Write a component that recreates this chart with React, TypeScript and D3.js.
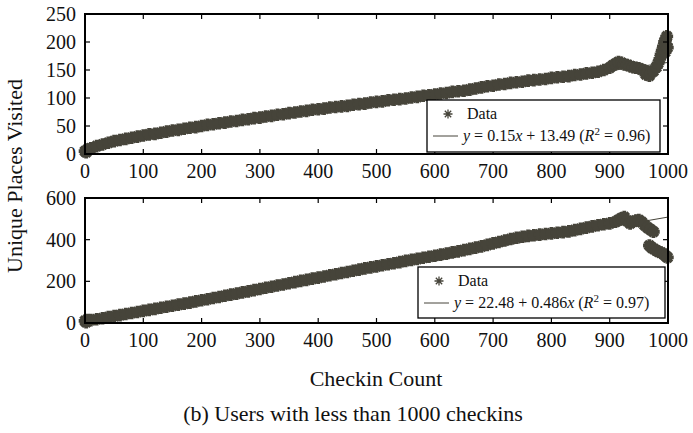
import React, { useEffect, useRef } from 'react';
import * as d3 from 'd3';

// checkin count vs unique places visited
const topData: [number, number][] = [
  [0, 5], [2, 3], [4, 8], [10, 10], [20, 14], [30, 17], [40, 20], [50, 23], [60, 25], [70, 27], [80, 29], [90, 31], [100, 33],
  [110, 35], [120, 36], [130, 38], [140, 40], [150, 42], [160, 43], [170, 45], [180, 47], [190, 48], [200, 50],
  [210, 52], [220, 53], [230, 55], [240, 56], [250, 58], [260, 59], [270, 61], [280, 62], [290, 64], [300, 65],
  [310, 67], [320, 68], [330, 70], [340, 71], [350, 73], [360, 74], [370, 76], [380, 77], [390, 79], [400, 80],
  [410, 81], [420, 83], [430, 84], [440, 85], [450, 86], [460, 88], [470, 89], [480, 90], [490, 92], [500, 93],
  [510, 94], [520, 96], [530, 97], [540, 98], [550, 99], [560, 101], [570, 102], [580, 104], [590, 105], [600, 106],
  [610, 108], [620, 109], [630, 111], [640, 112], [650, 113], [660, 115], [670, 117], [680, 119], [690, 121], [700, 122],
  [710, 124], [720, 125], [730, 127], [740, 128], [750, 129], [760, 131], [770, 132], [780, 133], [790, 134], [800, 136],
  [810, 137], [820, 138], [830, 139], [840, 141], [850, 142], [860, 144], [870, 145], [880, 147], [890, 150], [900, 154],
  [905, 158], [910, 161], [915, 164], [920, 163], [925, 160], [930, 159], [935, 157], [940, 155], [945, 154], [950, 153],
  [955, 151], [960, 149], [962, 142], [965, 146], [968, 140], [970, 145], [975, 148], [980, 155], [983, 162], [986, 170],
  [988, 178], [990, 185], [992, 192], [994, 200], [995, 182], [996, 205], [997, 195], [998, 210], [999, 190],
];

const bottomData: [number, number][] = [
  [0, 10], [2, 4], [4, 14], [10, 14], [20, 18], [30, 23], [40, 28], [50, 33], [60, 38], [70, 43], [80, 48], [90, 53], [100, 58],
  [110, 63], [120, 68], [130, 73], [140, 78], [150, 83], [160, 88], [170, 93], [180, 98], [190, 104], [200, 109],
  [210, 114], [220, 120], [230, 125], [240, 131], [250, 136], [260, 141], [270, 147], [280, 152], [290, 158], [300, 163],
  [310, 169], [320, 174], [330, 180], [340, 185], [350, 191], [360, 196], [370, 202], [380, 207], [390, 213], [400, 218],
  [410, 223], [420, 229], [430, 234], [440, 240], [450, 245], [460, 251], [470, 256], [480, 262], [490, 267], [500, 272],
  [510, 277], [520, 282], [530, 287], [540, 292], [550, 298], [560, 303], [570, 308], [580, 313], [590, 318], [600, 323],
  [610, 328], [620, 333], [630, 339], [640, 344], [650, 350], [660, 356], [670, 362], [680, 368], [690, 375], [700, 382],
  [710, 389], [720, 396], [730, 403], [740, 409], [750, 414], [760, 418], [770, 421], [780, 424], [790, 427], [800, 430],
  [810, 433], [820, 436], [830, 440], [840, 446], [850, 452], [860, 458], [870, 464], [880, 469], [890, 474], [900, 478],
  [910, 486], [915, 494], [920, 502], [925, 508], [930, 490], [935, 478], [940, 486], [945, 492], [950, 494], [955, 484],
  [960, 470], [965, 458], [970, 448], [975, 438],
  [968, 372], [972, 362], [976, 355], [980, 348], [984, 342], [988, 338], [992, 332], [996, 322], [999, 315],
];

const xTicks = [0, 100, 200, 300, 400, 500, 600, 700, 800, 900, 1000];
const topYTicks = [0, 50, 100, 150, 200, 250];
const bottomYTicks = [0, 200, 400, 600];

const topFit = { intercept: 13.49, slope: 0.15 };
const bottomFit = { intercept: 22.48, slope: 0.486 };

const ink = '#46443a';
const font = '"Liberation Serif", "Times New Roman", serif';

// 8-arm asterisk like the matlab '*' marker
function asterisk(r: number) {
  const d = r * Math.SQRT1_2;
  return `M${-r},0L${r},0M0,${-r}L0,${r}M${-d},${-d}L${d},${d}M${-d},${d}L${d},${-d}`;
}

const App: React.FC = () => {
  const svgRef = useRef<SVGSVGElement>(null);

  useEffect(() => {
    if (!svgRef.current) return;
    const svg = d3.select(svgRef.current);
    svg.selectAll('*').remove();

    const x = d3.scaleLinear().domain([0, 1000]).range([85, 668]);

    const drawPanel = (
      data: [number, number][],
      yTicks: number[],
      yRange: [number, number],
      fit: { intercept: number; slope: number },
      legend: { x: number; y: number; w: number; h: number },
      fitLabel: string[],
    ) => {
      const y = d3.scaleLinear().domain([yTicks[0], yTicks[yTicks.length - 1]]).range(yRange);
      const g = svg.append('g');
      const [x0, x1] = x.range();
      const [yb, yt] = yRange;

      // fit line underneath the points
      g.append('line')
        .attr('x1', x(0)).attr('y1', y(fit.intercept))
        .attr('x2', x(1000)).attr('y2', y(fit.intercept + fit.slope * 1000))
        .attr('stroke', ink).attr('stroke-width', 1);

      g.selectAll('.pt')
        .data(data)
        .enter()
        .append('path')
        .attr('class', 'pt')
        .attr('transform', d => `translate(${x(d[0])},${y(d[1])})`)
        .attr('d', asterisk(6.3))
        .attr('stroke', ink)
        .attr('stroke-width', 3.8)
        .attr('fill', 'none');

      // ticks on all four sides, pointing in
      xTicks.forEach(t => {
        g.append('line').attr('x1', x(t)).attr('x2', x(t)).attr('y1', yb).attr('y2', yb - 5)
          .attr('stroke', '#000').attr('stroke-width', 1.2);
        g.append('line').attr('x1', x(t)).attr('x2', x(t)).attr('y1', yt).attr('y2', yt + 5)
          .attr('stroke', '#000').attr('stroke-width', 1.2);
        g.append('text').attr('x', x(t)).attr('y', yb + 24)
          .attr('text-anchor', 'middle')
          .style('font-family', font).style('font-size', '20px').style('fill', '#111')
          .text(t);
      });
      yTicks.forEach(t => {
        g.append('line').attr('x1', x0).attr('x2', x0 + 5).attr('y1', y(t)).attr('y2', y(t))
          .attr('stroke', '#000').attr('stroke-width', 1.2);
        g.append('line').attr('x1', x1).attr('x2', x1 - 5).attr('y1', y(t)).attr('y2', y(t))
          .attr('stroke', '#000').attr('stroke-width', 1.2);
        g.append('text').attr('x', 76).attr('y', y(t)).attr('dy', '0.35em')
          .attr('text-anchor', 'end')
          .style('font-family', font).style('font-size', '20px').style('fill', '#111')
          .text(t);
      });

      // legend
      const lg = g.append('g');
      lg.append('rect')
        .attr('x', legend.x).attr('y', legend.y).attr('width', legend.w).attr('height', legend.h)
        .attr('fill', '#fff').attr('stroke', '#000').attr('stroke-width', 1.3);
      lg.append('path')
        .attr('transform', `translate(${legend.x + 21},${legend.y + 14})`)
        .attr('d', asterisk(4.5))
        .attr('stroke', ink).attr('stroke-width', 1.3).attr('fill', 'none');
      lg.append('text')
        .attr('x', legend.x + 40).attr('y', legend.y + 19)
        .style('font-family', font).style('font-size', '16px').style('fill', '#111')
        .text('Data');
      lg.append('line')
        .attr('x1', legend.x + 6).attr('x2', legend.x + 31)
        .attr('y1', legend.y + 36).attr('y2', legend.y + 36)
        .attr('stroke', ink).attr('stroke-width', 1);
      const ft = lg.append('text')
        .attr('x', legend.x + 36).attr('y', legend.y + 41)
        .style('font-family', font).style('font-size', '16px').style('fill', '#111');
      ft.append('tspan').style('font-style', 'italic').text('y');
      ft.append('tspan').text(fitLabel[0]);
      ft.append('tspan').style('font-style', 'italic').text(fitLabel[1]);
      ft.append('tspan').text(fitLabel[2]);
      ft.append('tspan').style('font-style', 'italic').text('R');
      ft.append('tspan').attr('dy', -6).style('font-size', '11px').text('2');
      ft.append('tspan').attr('dy', 6).text(fitLabel[3]);

      // frame
      g.append('rect')
        .attr('x', x0).attr('y', yt).attr('width', x1 - x0).attr('height', yb - yt)
        .attr('fill', 'none').attr('stroke', '#000').attr('stroke-width', 2);
    };

    drawPanel(topData, topYTicks, [154, 14], topFit,
      { x: 427, y: 100, w: 233, h: 52 },
      [' = 0.15', 'x', ' + 13.49 (', ' = 0.96)']);
    drawPanel(bottomData, bottomYTicks, [323, 198], bottomFit,
      { x: 418, y: 267, w: 247, h: 51 },
      [' = 22.48 + 0.486', 'x', ' (', ' = 0.97)']);

    svg.append('text')
      .attr('transform', 'translate(22,176) rotate(-90)')
      .attr('text-anchor', 'middle')
      .style('font-family', font).style('font-size', '22px').style('fill', '#111')
      .text('Unique Places Visited');

    svg.append('text')
      .attr('x', 376).attr('y', 386)
      .attr('text-anchor', 'middle')
      .style('font-family', font).style('font-size', '22px').style('fill', '#111')
      .text('Checkin Count');

    svg.append('text')
      .attr('x', 353).attr('y', 421)
      .attr('text-anchor', 'middle')
      .style('font-family', font).style('font-size', '22px').style('fill', '#111')
      .text('(b) Users with less than 1000 checkins');
  }, []);

  return (
    <svg
      ref={svgRef}
      width={693}
      height={433}
      style={{ position: 'absolute', left: 0, top: 0, background: '#fff' }}
    />
  );
};

export default App;
